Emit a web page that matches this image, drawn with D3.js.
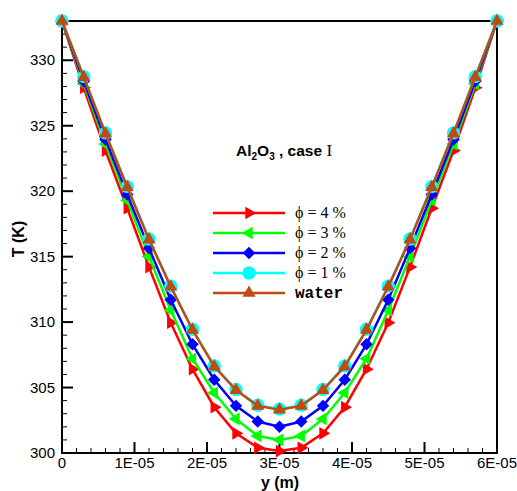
<!DOCTYPE html>
<html><head><meta charset="utf-8">
<script src="https://cdn.jsdelivr.net/npm/d3@7"></script>
<style>html,body{margin:0;padding:0;background:#fff;overflow:hidden}</style>
</head><body>
<script>
const yPos = [0, 3e-6, 6e-6, 9e-6, 1.2e-5, 1.5e-5, 1.8e-5, 2.1e-5, 2.4e-5, 2.7e-5, 3e-5, 3.3e-5, 3.6e-5, 3.9e-5, 4.2e-5, 4.5e-5, 4.8e-5, 5.1e-5, 5.4e-5, 5.7e-5, 6e-5];
const phi4 = [333, 327.9, 323.1, 318.7, 314.2, 309.95, 306.4, 303.5, 301.5, 300.4, 300.15, 300.4, 301.5, 303.5, 306.4, 309.95, 314.2, 318.7, 323.1, 327.9, 333];
const phi3 = [333, 328.2, 323.6, 319.3, 315.0, 310.9, 307.2, 304.6, 302.6, 301.3, 301.0, 301.3, 302.6, 304.6, 307.2, 310.9, 315.0, 319.3, 323.6, 328.2, 333];
const phi2 = [333, 328.4, 323.95, 319.75, 315.65, 311.7, 308.3, 305.6, 303.6, 302.4, 302.0, 302.4, 303.6, 305.6, 308.3, 311.7, 315.65, 319.75, 323.95, 328.4, 333];
const phi1 = [333, 328.75, 324.45, 320.35, 316.35, 312.75, 309.45, 306.65, 304.85, 303.65, 303.35, 303.65, 304.85, 306.65, 309.45, 312.75, 316.35, 320.35, 324.45, 328.75, 333];
const water = [333, 328.7, 324.4, 320.3, 316.3, 312.7, 309.4, 306.6, 304.8, 303.6, 303.3, 303.6, 304.8, 306.6, 309.4, 312.7, 316.3, 320.3, 324.4, 328.7, 333];
const seriesNames = ["\u03D5 = 4 %", "\u03D5 = 3 %", "\u03D5 = 2 %", "\u03D5 = 1 %", "water"];
const xTicks = [0, 1e-5, 2e-5, 3e-5, 4e-5, 5e-5, 6e-5];
const xTickLabels = ["0", "1E-05", "2E-05", "3E-05", "4E-05", "5E-05", "6E-05"];
const yTicks = [300, 305, 310, 315, 320, 325, 330];

const W = 517, H = 491;
const L = 62, R = 497, T = 21, B = 453;
const x = d3.scaleLinear().domain([0, 6e-5]).range([L, R]);
const y = d3.scaleLinear().domain([300, 333]).range([B, T]);

const svg = d3.select("body").append("svg").attr("width", W).attr("height", H);

// ticks (inward)
const xMinor = d3.range(0, 6e-5 + 1e-12, 2e-6);
const yMinor = d3.range(300, 333.001, 1);
const tg = svg.append("g").attr("stroke", "#000");
tg.selectAll(".xm").data(xMinor).enter().append("line")
  .attr("x1", d => x(d)).attr("x2", d => x(d)).attr("y1", B).attr("y2", B - 5).attr("stroke-width", 1);
tg.selectAll(".xM").data(xTicks).enter().append("line")
  .attr("x1", d => x(d)).attr("x2", d => x(d)).attr("y1", B).attr("y2", B - 11).attr("stroke-width", 2);
tg.selectAll(".ym").data(yMinor).enter().append("line")
  .attr("x1", L).attr("x2", L + 5).attr("y1", d => y(d)).attr("y2", d => y(d)).attr("stroke-width", 1);
tg.selectAll(".yM").data(yTicks).enter().append("line")
  .attr("x1", L).attr("x2", L + 11).attr("y1", d => y(d)).attr("y2", d => y(d)).attr("stroke-width", 2);

// frame
svg.append("rect").attr("x", L).attr("y", T).attr("width", R - L).attr("height", B - T)
  .attr("fill", "none").attr("stroke", "#000").attr("stroke-width", 2);

// tick labels
svg.append("g").selectAll("text").data(xTicks).enter().append("text")
  .attr("x", d => x(d)).attr("y", B + 15).attr("text-anchor", "middle")
  .attr("font-family", "Liberation Sans, Arial, sans-serif").attr("font-size", 15)
  .text((d, i) => xTickLabels[i]);
svg.append("g").selectAll("text").data(yTicks).enter().append("text")
  .attr("x", L - 7).attr("y", d => y(d) + 5).attr("text-anchor", "end")
  .attr("font-family", "Liberation Sans, Arial, sans-serif").attr("font-size", 15)
  .text(d => d);

// axis titles
svg.append("text").attr("transform", `translate(24,${239}) rotate(-90)`).attr("text-anchor", "middle")
  .attr("font-family", "Liberation Sans, Arial, sans-serif").attr("font-size", 16).attr("font-weight", "bold")
  .text("T (K)");
svg.append("text").attr("x", 280).attr("y", 488).attr("text-anchor", "middle")
  .attr("font-family", "Liberation Sans, Arial, sans-serif").attr("font-size", 16).attr("font-weight", "bold")
  .text("y (m)");

// series
const colors = ["#ff0000", "#00ff00", "#0000ff", "#00ffff", "#c24a10"];
const data = [phi4, phi3, phi2, phi1, water];
const markerPath = [
  d3.symbol().type(d3.symbolTriangle).size(70)(),
  d3.symbol().type(d3.symbolTriangle).size(70)(),
  d3.symbol().type(d3.symbolSquare).size(78)(),
  d3.symbol().type(d3.symbolCircle).size(140)(),
  d3.symbol().type(d3.symbolTriangle).size(75)()
];
const markerRot = [90, -90, 45, 0, 0];

const line = d3.line().x((d, i) => x(yPos[i])).y(d => y(d));
data.forEach((s, k) => {
  const g = svg.append("g");
  g.append("path").datum(s).attr("d", line).attr("fill", "none")
    .attr("stroke", colors[k]).attr("stroke-width", 2.5);
  g.selectAll("path.m").data(s).enter().append("path").attr("class", "m")
    .attr("d", markerPath[k]).attr("fill", colors[k])
    .attr("transform", (d, i) => `translate(${x(yPos[i])},${y(d)}) rotate(${markerRot[k]})`);
});

// title
const tt = svg.append("text").attr("x", 236).attr("y", 156)
  .attr("font-family", "Liberation Sans, Arial, sans-serif").attr("font-size", 15.5).attr("font-weight", "bold");
tt.append("tspan").text("Al");
tt.append("tspan").attr("font-size", 10).attr("dy", 4).text("2");
tt.append("tspan").attr("dy", -4).text("O");
tt.append("tspan").attr("font-size", 10).attr("dy", 4).text("3");
tt.append("tspan").attr("dy", -4).text(" , case ");
tt.append("tspan").attr("font-family", "Liberation Serif, Times New Roman, serif").attr("font-weight", "normal").attr("font-size", 17).text("I");

// legend
const lg = svg.append("g");
seriesNames.forEach((name, k) => {
  const yy = 213 + k * 20;
  lg.append("line").attr("x1", 213).attr("x2", 285).attr("y1", yy).attr("y2", yy)
    .attr("stroke", colors[k]).attr("stroke-width", 2.5);
  lg.append("path").attr("d", markerPath[k]).attr("fill", colors[k])
    .attr("transform", `translate(249,${yy}) rotate(${markerRot[k]})`);
  const t = lg.append("text").attr("x", 295).attr("y", yy + 5).text(name);
  if (k === 4) t.attr("font-family", "Liberation Mono, Courier New, monospace").attr("font-weight", "bold").attr("font-size", 16);
  else t.attr("font-family", "Liberation Serif, Times New Roman, serif").attr("font-size", 16);
});
</script>
</body></html>
